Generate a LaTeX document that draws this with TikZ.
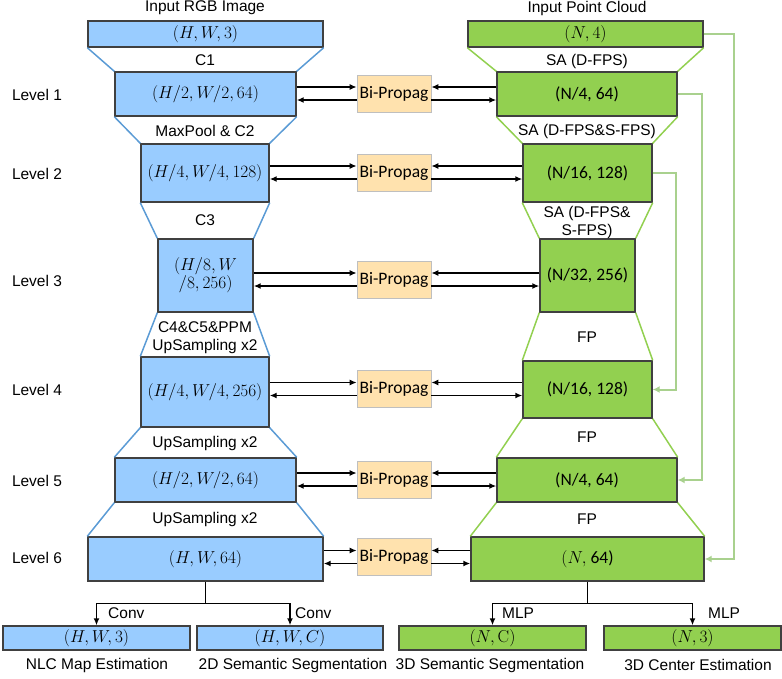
\documentclass[tikz,border=0pt]{standalone}
\usepackage[no-math]{fontspec}
\setmainfont{Liberation Sans}
\newfontfamily\calfont{Carlito}
\usetikzlibrary{arrows.meta}
\definecolor{imgblue}{HTML}{99CCFF}
\definecolor{ptgreen}{HTML}{92D050}
\definecolor{propfill}{HTML}{FFE2AE}
\definecolor{boxline}{HTML}{404040}
\definecolor{imgedge}{HTML}{5B9BD5}
\definecolor{skipgreen}{HTML}{A9D18E}
\tikzset{
	imgbox/.style={draw=boxline,fill=imgblue,line width=1.4pt,inner sep=0pt,align=center,font=\fontsize{17}{20}\selectfont},
	ptbox/.style={draw=boxline,fill=ptgreen,line width=1.4pt,inner sep=0pt,font=\calfont\fontsize{17.5}{20}\selectfont},
	propbox/.style={draw=black!25,fill=propfill,line width=0.6pt,inner sep=0pt,minimum width=74,minimum height=37,font=\calfont\fontsize{17.5}{20}\selectfont},
	lbl/.style={inner sep=0pt,align=center,font=\fontsize{15.5}{18}\selectfont},
	flow/.style={line width=1.5pt,-{Latex[length=7pt,width=6pt]}},
	link/.style={line width=1.5pt},
	skip/.style={skipgreen,line width=2pt,-{Latex[length=7pt,width=7pt]}},
}
\begin{document}
\begin{tikzpicture}[x=1pt,y=-1pt]
	\useasboundingbox(0,0)rectangle(782,678);
	% titles
	\node[lbl](titleA) at (205,8){Input RGB Image};
	\node[lbl](titleB) at (587,8){Input Point Cloud};
	% image branch
	\node[imgbox,minimum width=235,minimum height=26](i0) at (205.5,34){$(H,W,3)$};
	\node[imgbox,minimum width=181,minimum height=44](i1) at (205.5,94){$(H/2,W/2,64)$};
	\node[imgbox,minimum width=128,minimum height=58](i2) at (205,173){$(H/4,W/4,128)$};
	\node[imgbox,minimum width=95,minimum height=73](i3) at (205.5,275.5){$(H/8,W$\\[-2pt]$/8,256)$};
	\node[imgbox,minimum width=128,minimum height=70](i4) at (205,392){$(H/4,W/4,256)$};
	\node[imgbox,minimum width=181,minimum height=44](i5) at (205.5,480){$(H/2,W/2,64)$};
	\node[imgbox,minimum width=235,minimum height=44](i6) at (205.5,559){$(H,W,64)$};
	\foreach \a/\b in {i0/i1,i1/i2,i2/i3,i3/i4,i4/i5,i5/i6}
		\draw[imgedge,line width=1.5pt](\a.south west)--(\b.north west)(\a.south east)--(\b.north east);
	\node[lbl](c1) at (205,60){C1};
	\node[lbl](c2) at (205,131){MaxPool \& C2};
	\node[lbl](c3) at (205,220){C3};
	\node[lbl](c4) at (205,338){C4\&C5\&PPM\\UpSampling x2};
	\node[lbl](up1) at (205,443){UpSampling x2};
	\node[lbl](up2) at (205,519){UpSampling x2};
	% point branch
	\node[ptbox,minimum width=235,minimum height=26](p0) at (585.5,34){$(N,4)$};
	\node[ptbox,minimum width=180,minimum height=44](p1) at (587,94){(N/4, 64)};
	\node[ptbox,minimum width=129,minimum height=58](p2) at (587.5,173){(N/16, 128)};
	\node[ptbox,minimum width=95,minimum height=73](p3) at (587.5,275.5){(N/32, 256)};
	\node[ptbox,minimum width=129,minimum height=57](p4) at (587.5,389.5){(N/16, 128)};
	\node[ptbox,minimum width=180,minimum height=44](p5) at (587,480){(N/4, 64)};
	\node[ptbox,minimum width=233,minimum height=44](p6) at (587.5,559){$(N,$ 64)};
	\foreach \a/\b in {p0/p1,p1/p2,p2/p3,p3/p4,p4/p5,p5/p6}
		\draw[ptgreen,line width=1.5pt](\a.south west)--(\b.north west)(\a.south east)--(\b.north east);
	\node[lbl](sa1) at (587,61){SA (D-FPS)};
	\node[lbl](sa2) at (587,131){SA (D-FPS\&S-FPS)};
	\node[lbl](sa3) at (587,222){SA (D-FPS\&\\S-FPS)};
	\node[lbl](fp1) at (587,337){FP};
	\node[lbl](fp2) at (587,437){FP};
	\node[lbl](fp3) at (587,519){FP};
	% skip links
	\draw[skip](p0.east)--++(30,0)|-(p6.east);
	\draw[skip](p1.east)--++(24,0)|-(p5.east);
	\draw[skip](p2.east)--++(23,0)|-(p4.east);
	% bi-directional propagation
	\foreach \k/\y in {1/93.5,2/172.5,3/279.5,4/389,5/479.5,6/557}{
		\node[propbox](b\k) at (394,\y){Bi-Propag};
		\node[lbl](lv\k) at (37,\y+1){Level \k};
		\draw[flow]([yshift=6.5pt]b\k.west-|i\k.east)--([yshift=6.5pt]b\k.west);
		\draw[flow]([yshift=-6.5pt]b\k.west)--([yshift=-6.5pt]b\k.west-|i\k.east);
		\draw[flow]([yshift=6.5pt]b\k.east-|p\k.west)--([yshift=6.5pt]b\k.east);
		\draw[flow]([yshift=-6.5pt]b\k.east)--([yshift=-6.5pt]b\k.east-|p\k.west);
	}
	% outputs
	\node[imgbox,minimum width=187,minimum height=24](o1) at (96.5,638){$(H,W,3)$};
	\node[imgbox,minimum width=186,minimum height=24](o2) at (290,638){$(H,W,C)$};
	\node[ptbox,minimum width=187,minimum height=24](o3) at (492.5,638){$(N,\mathrm{C})$};
	\node[ptbox,minimum width=177,minimum height=24](o4) at (692.5,638){$(N,3)$};
	\draw[link](i6.south)--++(0,22)coordinate(isplit);
	\draw[flow](isplit)-|(o1.north);
	\draw[flow](isplit)-|(o2.north);
	\draw[link](p6.south)--++(0,22)coordinate(psplit);
	\draw[flow](psplit)-|(o3.north);
	\draw[flow](psplit)-|(o4.north);
	\node[lbl,anchor=west](conv1) at (108,613){Conv};
	\node[lbl,anchor=west](conv2) at (295,613){Conv};
	\node[lbl,anchor=west](mlp1) at (502,613){MLP};
	\node[lbl,anchor=west](mlp2) at (708,613){MLP};
	\node[lbl](cap1) at (97,665){NLC Map Estimation};
	\node[lbl](cap2) at (293,665){2D Semantic Segmentation};
	\node[lbl](cap3) at (490,665){3D Semantic Segmentation};
	\node[lbl](cap4) at (698,665){3D Center Estimation};
\end{tikzpicture}
\end{document}
